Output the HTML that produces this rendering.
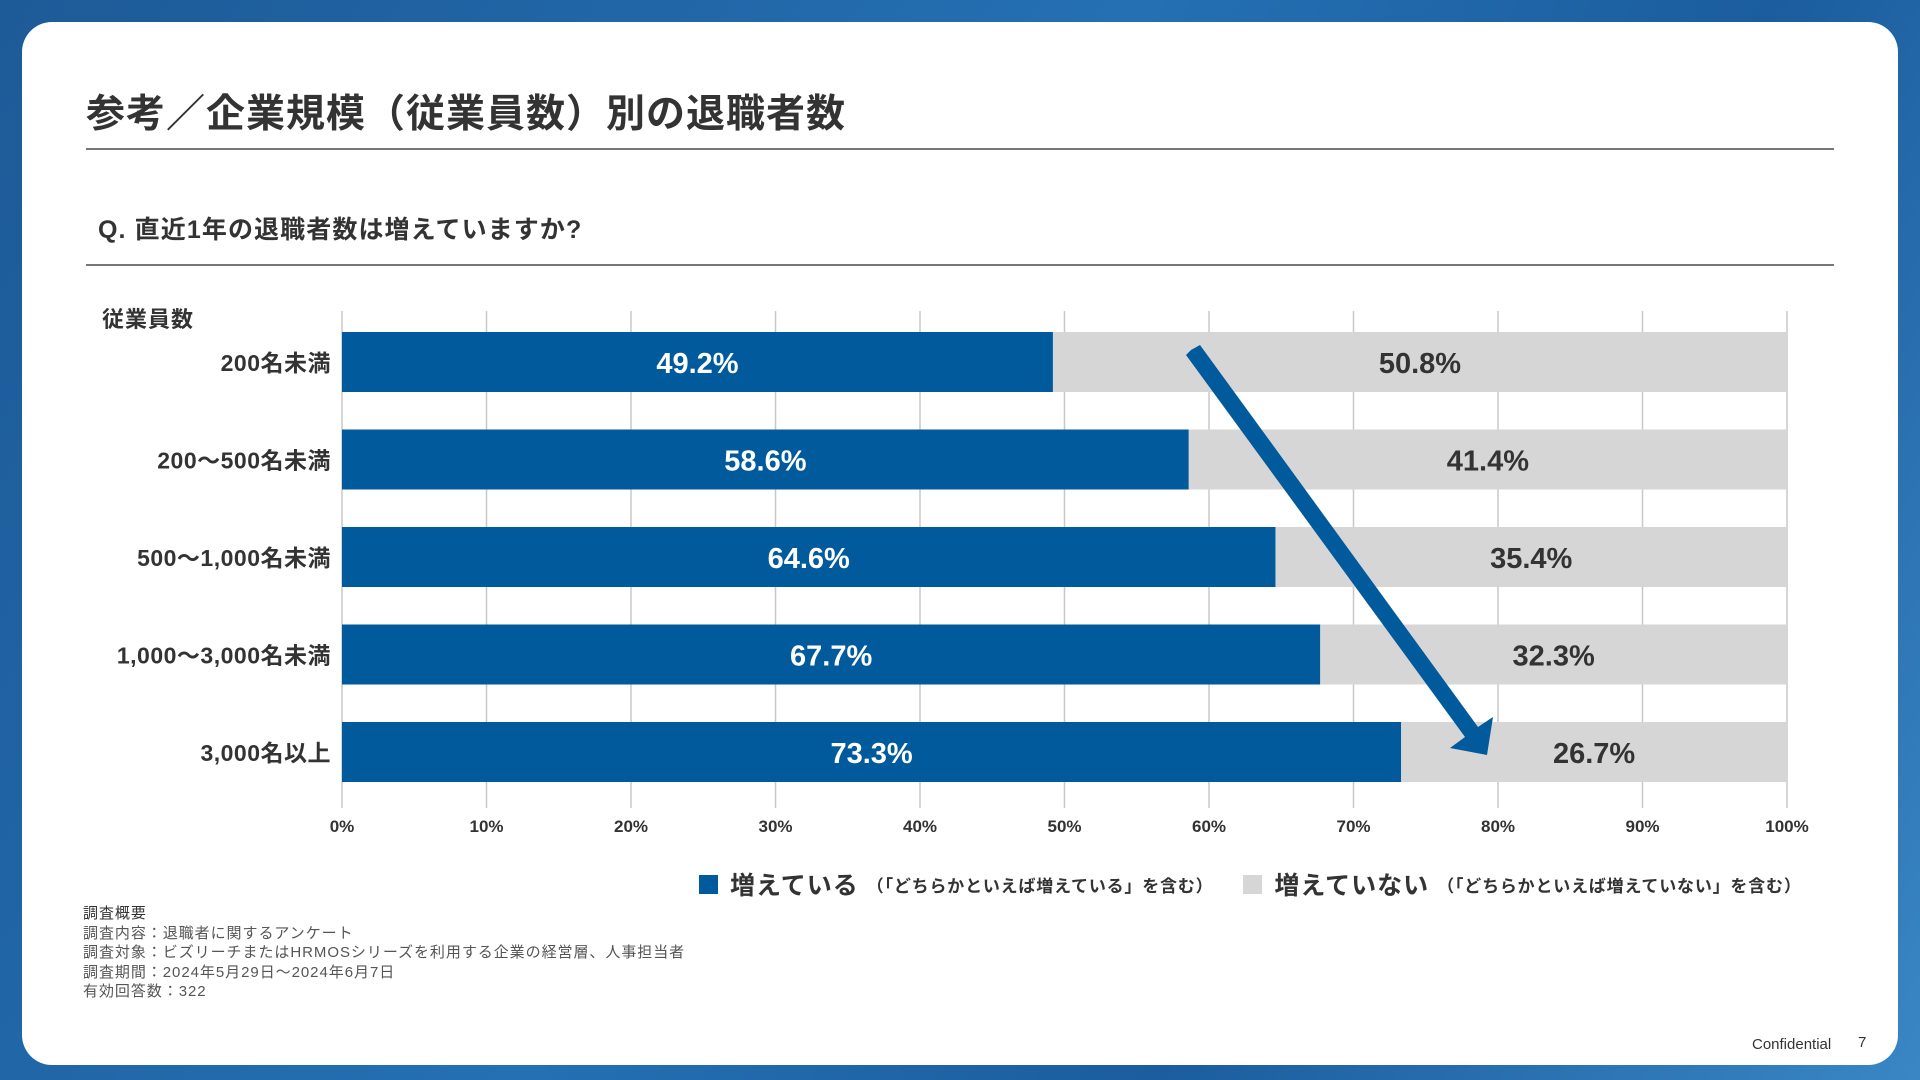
<!DOCTYPE html>
<html><head><meta charset="utf-8">
<style>
*{margin:0;padding:0;box-sizing:border-box}
body{width:1920px;height:1080px;overflow:hidden;background:linear-gradient(120deg,#1d5a98 0%,#2470b3 45%,#1b5d9e 70%,#3a86c4 100%);font-family:"Liberation Sans","Noto Sans CJK JP",sans-serif;color:#333;position:relative}
#card{position:absolute;left:22px;top:22px;width:1876px;height:1043px;background:#fff;border-radius:30px}
.abs{position:absolute}
</style></head><body>
<div id="card"></div>
<div class="abs" style="left:86px;top:83px;font-size:39px;font-weight:bold;color:#333;letter-spacing:1px">参考／企業規模（従業員数）別の退職者数</div>
<div class="abs" style="left:86px;top:148px;width:1748px;height:2px;background:#777"></div>
<div class="abs" style="left:98px;top:210px;font-size:25px;font-weight:bold;color:#333;letter-spacing:1.1px">Q. 直近1年の退職者数は増えていますか?</div>
<div class="abs" style="left:86px;top:264px;width:1748px;height:2px;background:#777"></div>
<div class="abs" style="left:102px;top:302px;font-size:22px;font-weight:bold;color:#333;letter-spacing:1px">従業員数</div>

<svg class="abs" style="left:0;top:0" width="1920" height="1080" id="chart"></svg>

<div class="abs" style="left:699px;top:868px;height:32px;display:flex;align-items:center;white-space:nowrap;color:#333">
 <span style="width:19px;height:19px;background:#005a9c;display:inline-block;margin-right:12px"></span>
 <span style="font-size:25px;font-weight:bold;letter-spacing:1px">増えている</span>
 <span style="font-size:17px;font-weight:bold;margin-left:8px;letter-spacing:0.8px">（「どちらかといえば増えている」を含む）</span>
 <span style="width:19px;height:19px;background:#d6d6d6;display:inline-block;margin-left:30px;margin-right:12px"></span>
 <span style="font-size:25px;font-weight:bold;letter-spacing:1px">増えていない</span>
 <span style="font-size:17px;font-weight:bold;margin-left:8px;letter-spacing:0.8px">（「どちらかといえば増えていない」を含む）</span>
</div>

<div class="abs" style="left:83px;top:904px;font-size:15px;line-height:19.5px;color:#555;letter-spacing:0.95px">
<div style="color:#333">調査概要</div>
<div>調査内容：退職者に関するアンケート</div>
<div>調査対象：ビズリーチまたはHRMOSシリーズを利用する企業の経営層、人事担当者</div>
<div>調査期間：2024年5月29日〜2024年6月7日</div>
<div>有効回答数：322</div>
</div>
<div class="abs" style="left:1752px;top:1036px;font-size:15px;color:#333">Confidential</div>
<div class="abs" style="left:1858px;top:1034px;font-size:15px;color:#333">7</div>

<script>
const categories=["200名未満","200〜500名未満","500〜1,000名未満","1,000〜3,000名未満","3,000名以上"];
const increasing=[49.2,58.6,64.6,67.7,73.3];
const notIncreasing=[50.8,41.4,35.4,32.3,26.7];
const ticks=[0,10,20,30,40,50,60,70,80,90,100];
const NS="http://www.w3.org/2000/svg";
const svg=document.getElementById('chart');
const X0=342,X1=1787,TOP=311,BOT=808,ROW0=362,STEP=97.5,BH=60;
const xs=v=>X0+(X1-X0)*v/100;
const ys=i=>ROW0+STEP*i;
function mk(t,a){const e=document.createElementNS(NS,t);for(const k in a)e.setAttribute(k,a[k]);svg.appendChild(e);return e;}
ticks.forEach(t=>{
 const g=mk('line',{x1:xs(t),x2:xs(t),y1:TOP,y2:BOT,stroke:'#c8c8c8','stroke-width':1.5});
 
 
 const l=mk('text',{x:xs(t),y:832,'text-anchor':'middle','font-size':17,'font-weight':'bold',fill:'#333','font-family':'Liberation Sans, sans-serif'});
 l.textContent=t+'%';
 
 
});
categories.forEach((c,i)=>{
 const cy=ys(i);
 const a=mk('rect',{x:xs(0),y:cy-BH/2,width:xs(increasing[i])-xs(0),height:BH,fill:'#005a9c'});
 
 
 const b=mk('rect',{x:xs(increasing[i]),y:cy-BH/2,width:xs(increasing[i]+notIncreasing[i])-xs(increasing[i]),height:BH,fill:'#d6d6d6'});
 
 
 const la=mk('text',{x:(xs(0)+xs(increasing[i]))/2,y:cy+11,'text-anchor':'middle','font-size':29,'font-weight':'bold',fill:'#fff','font-family':'Liberation Sans, sans-serif'});
 la.textContent=increasing[i].toFixed(1)+'%';
 
 
 const lb=mk('text',{x:(xs(increasing[i])+xs(100))/2,y:cy+11,'text-anchor':'middle','font-size':29,'font-weight':'bold',fill:'#333','font-family':'Liberation Sans, sans-serif'});
 lb.textContent=notIncreasing[i].toFixed(1)+'%';
 
 
 const cl=mk('text',{x:331,y:cy+9,'text-anchor':'end','font-size':23,'font-weight':'bold',fill:'#333','letter-spacing':'0.5','font-family':'Liberation Sans, Noto Sans CJK JP, sans-serif'});
 cl.textContent=c;
 
 
});
const arr=mk('path',{d:'M1191,350 L1200,345 L1478,727 L1493,717 L1487,755 L1450,748 L1465,737 L1186,355 Z',fill:'#005a9c'});


</script>
</body></html>
